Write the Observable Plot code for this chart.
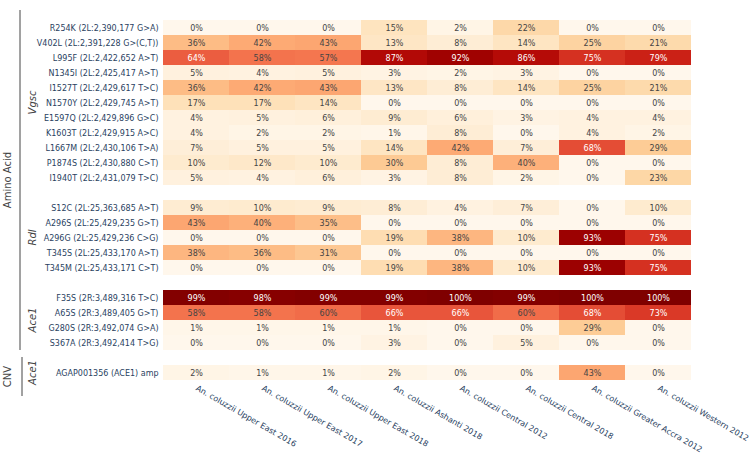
<!DOCTYPE html>
<html><head><meta charset="utf-8">
<script src="https://cdn.jsdelivr.net/npm/d3@7"></script>
<script src="https://cdn.jsdelivr.net/npm/@observablehq/plot@0.6"></script>
<style>body{margin:0;background:#fff}</style>
</head><body><div id="chart"></div>
<script>
const populations = [
  "An. coluzzii Upper East 2016", "An. coluzzii Upper East 2017", "An. coluzzii Upper East 2018",
  "An. coluzzii Ashanti 2018", "An. coluzzii Central 2012", "An. coluzzii Central 2018",
  "An. coluzzii Greater Accra 2012", "An. coluzzii Western 2012"
];

const vgscVariants = [
  "R254K (2L:2,390,177 G>A)", "V402L (2L:2,391,228 G>(C,T))", "L995F (2L:2,422,652 A>T)",
  "N1345I (2L:2,425,417 A>T)", "I1527T (2L:2,429,617 T>C)", "N1570Y (2L:2,429,745 A>T)",
  "E1597Q (2L:2,429,896 G>C)", "K1603T (2L:2,429,915 A>C)", "L1667M (2L:2,430,106 T>A)",
  "P1874S (2L:2,430,880 C>T)", "I1940T (2L:2,431,079 T>C)"
];
const vgscValues = [
  [0, 0, 0, 15, 2, 22, 0, 0],
  [36, 42, 43, 13, 8, 14, 25, 21],
  [64, 58, 57, 87, 92, 86, 75, 79],
  [5, 4, 5, 3, 2, 3, 0, 0],
  [36, 42, 43, 13, 8, 14, 25, 21],
  [17, 17, 14, 0, 0, 0, 0, 0],
  [4, 5, 6, 9, 6, 3, 4, 4],
  [4, 2, 2, 1, 8, 0, 4, 2],
  [7, 5, 5, 14, 42, 7, 68, 29],
  [10, 12, 10, 30, 8, 40, 0, 0],
  [5, 4, 6, 3, 8, 2, 0, 23]
];

const rdlVariants = [
  "S12C (2L:25,363,685 A>T)", "A296S (2L:25,429,235 G>T)", "A296G (2L:25,429,236 C>G)",
  "T345S (2L:25,433,170 A>T)", "T345M (2L:25,433,171 C>T)"
];
const rdlValues = [
  [9, 10, 9, 8, 4, 7, 0, 10],
  [43, 40, 35, 0, 0, 0, 0, 0],
  [0, 0, 0, 19, 38, 10, 93, 75],
  [38, 36, 31, 0, 0, 0, 0, 0],
  [0, 0, 0, 19, 38, 10, 93, 75]
];

const ace1Variants = [
  "F35S (2R:3,489,316 T>C)", "A65S (2R:3,489,405 G>T)",
  "G280S (2R:3,492,074 G>A)", "S367A (2R:3,492,414 T>G)"
];
const ace1Values = [
  [99, 98, 99, 99, 100, 99, 100, 100],
  [58, 58, 60, 66, 66, 60, 68, 73],
  [1, 1, 1, 1, 0, 0, 29, 0],
  [0, 0, 0, 3, 0, 5, 0, 0]
];

const cnvVariants = ["AGAP001356 (ACE1) amp"];
const cnvValues = [[2, 1, 1, 2, 0, 0, 43, 0]];

const groups = [
  {section: "Amino Acid", gene: "Vgsc", variants: vgscVariants, values: vgscValues},
  {section: "Amino Acid", gene: "Rdl", variants: rdlVariants, values: rdlValues},
  {section: "Amino Acid", gene: "Ace1", variants: ace1Variants, values: ace1Values},
  {section: "CNV", gene: "Ace1", variants: cnvVariants, values: cnvValues}
];

const rows = [];
const yDomain = [];
groups.forEach((g, gi) => {
  if (gi > 0) yDomain.push("gap" + gi);
  g.variants.forEach((v, i) => {
    yDomain.push(v);
    g.values[i].forEach((val, j) => rows.push({variant: v, population: populations[j], value: val}));
  });
});

const FONT = "DejaVu Sans, Verdana, sans-serif";

const plot = Plot.plot({
  width: 750, height: 456,
  marginLeft: 161, marginRight: 58, marginTop: 17, marginBottom: 73,
  style: {fontFamily: FONT, fontSize: "8px", background: "#fff", overflow: "visible"},
  x: {domain: populations, padding: 0, label: null},
  y: {domain: yDomain, padding: 0, label: null},
  color: {type: "linear", scheme: "OrRd", domain: [0, 100]},
  marks: [
    Plot.cell(rows, {x: "population", y: "variant", fill: "value", inset: 0}),
    Plot.text(rows.filter(d => d.value < 62), {x: "population", y: "variant", text: d => d.value + "%", fill: "#444", fontSize: 8}),
    Plot.text(rows.filter(d => d.value >= 62), {x: "population", y: "variant", text: d => d.value + "%", fill: "white", fontSize: 8}),
    Plot.axisX({tickRotate: 30, tickSize: 0, tickPadding: 4, fill: "#2a3f5f", label: null, fontSize: 8}),
    Plot.axisY({tickSize: 0, tickPadding: 3, tickFormat: d => d.startsWith("gap") ? "" : d, fill: "#2a3f5f", label: null, fontSize: 8})
  ]
});
document.getElementById("chart").appendChild(plot);

// group annotations in the left margin, positioned from the y scale
const ys = plot.scale("y");
const bw = ys.bandwidth;
const svg = d3.select(plot);
const ann = svg.append("g").attr("font-family", FONT).attr("fill", "#444");
function span(list) {
  const top = ys.apply(list[0]);
  const bot = ys.apply(list[list.length - 1]) + bw;
  return [top, bot];
}
groups.forEach(g => {
  const [t, b] = span(g.variants);
  ann.append("text")
    .attr("transform", `translate(36,${(t + b) / 2}) rotate(-90)`)
    .attr("text-anchor", "middle")
    .attr("font-size", 10).attr("font-style", "italic")
    .text(g.gene);
});
const sections = ["Amino Acid", "CNV"];
sections.forEach(s => {
  const vars = groups.filter(g => g.section === s).flatMap(g => g.variants);
  let [t, b] = span(vars);
  t -= s === "CNV" ? 8 : 10;
  b += s === "CNV" ? 16 : 0;
  const x = s === "CNV" ? 22 : 20;
  ann.append("line").attr("x1", x).attr("x2", x).attr("y1", t).attr("y2", b)
    .attr("stroke", "#444").attr("stroke-width", 1);
  ann.append("text")
    .attr("transform", `translate(11,${(t + b) / 2}) rotate(-90)`)
    .attr("text-anchor", "middle")
    .attr("font-size", 10)
    .text(s);
});
</script>
</body></html>
